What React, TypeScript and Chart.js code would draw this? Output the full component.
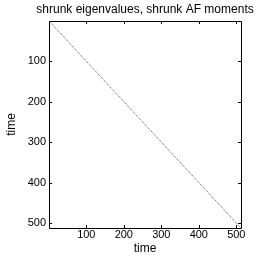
import React, { useEffect, useRef } from "react";
import { Chart, registerables } from "chart.js";

Chart.register(...registerables);

const titleText = "shrunk eigenvalues, shrunk AF moments";
const xLabel = "time";
const yLabel = "time";
const xTicks = [100, 200, 300, 400, 500];
const yTicks = [100, 200, 300, 400, 500];
const diagX = [1, 512];
const diagY = [1, 512];
const axisMin = 0.5;
const axisMax = 512.5;

const FONT = "Liberation Sans, Arial, sans-serif";

const framePlugin = {
  id: "frame",
  afterDraw(chart: any) {
    const { ctx, chartArea } = chart;
    const { left, right, top, bottom } = chartArea;
    const xs = chart.scales.x;
    const ys = chart.scales.y;
    ctx.save();
    ctx.strokeStyle = "#000";
    ctx.lineWidth = 1;
    ctx.beginPath();
    ctx.rect(Math.round(left) + 0.5, Math.round(top) + 0.5, Math.round(right - left), Math.round(bottom - top));
    ctx.stroke();
    const L = 3;
    ctx.beginPath();
    xTicks.forEach((v) => {
      const px = Math.round(xs.getPixelForValue(v)) + 0.5;
      ctx.moveTo(px, Math.round(bottom));
      ctx.lineTo(px, Math.round(bottom) - L);
      ctx.moveTo(px, Math.round(top));
      ctx.lineTo(px, Math.round(top) + L);
    });
    yTicks.forEach((v) => {
      const py = Math.round(ys.getPixelForValue(v)) + 0.5;
      ctx.moveTo(Math.round(left), py);
      ctx.lineTo(Math.round(left) + L, py);
      ctx.moveTo(Math.round(right), py);
      ctx.lineTo(Math.round(right) - L, py);
    });
    ctx.stroke();
    ctx.fillStyle = "#000";
    ctx.font = `12px ${FONT}`;
    ctx.textAlign = "center";
    ctx.textBaseline = "middle";
    ctx.fillText(titleText, (left + right) / 2, 10);
    ctx.restore();
  },
};

export default function App() {
  const ref = useRef<HTMLCanvasElement>(null);
  useEffect(() => {
    const canvas = ref.current!;
    const chart = new Chart(canvas, {
      type: "scatter",
      data: {
        datasets: [
          {
            data: diagX.map((x, i) => ({ x, y: diagY[i] })),
            showLine: true,
            borderColor: "#555555",
            borderWidth: 1,
            borderDash: [1, 1],
            pointRadius: 0,
          },
        ],
      },
      options: {
        responsive: false,
        animation: false,
        layout: { padding: { left: 4, right: 24, top: 21, bottom: 9 } },
        plugins: { legend: { display: false }, tooltip: { enabled: false }, title: { display: false } },
        scales: {
          x: {
            type: "linear",
            min: axisMin,
            max: axisMax,
            afterBuildTicks: (s: any) => {
              s.ticks = xTicks.map((v) => ({ value: v }));
            },
            afterFit: (s: any) => {
              s.height = 28;
            },
            grid: { display: false, drawTicks: false },
            border: { display: false },
            ticks: { color: "#000", font: { family: FONT, size: 11 }, padding: 0, maxRotation: 0 },
            title: { display: true, text: xLabel, color: "#000", font: { family: FONT, size: 12 }, padding: { top: 0, bottom: 0 } },
          },
          y: {
            type: "linear",
            reverse: true,
            min: axisMin,
            max: axisMax,
            afterBuildTicks: (s: any) => {
              s.ticks = yTicks.map((v) => ({ value: v }));
            },
            afterFit: (s: any) => {
              s.width = 45;
            },
            grid: { display: false, drawTicks: false },
            border: { display: false },
            ticks: { color: "#000", font: { family: FONT, size: 11 }, padding: 3 },
            title: { display: true, text: yLabel, color: "#000", font: { family: FONT, size: 12 }, padding: { top: 0, bottom: 0 } },
          },
        },
      },
      plugins: [framePlugin],
    });
    return () => chart.destroy();
  }, []);
  return (
    <div style={{ position: "fixed", left: 0, top: 0, width: 265, height: 265, background: "#fff" }}>
      <canvas ref={ref} width={265} height={265} style={{ width: 265, height: 265 }} />
    </div>
  );
}
